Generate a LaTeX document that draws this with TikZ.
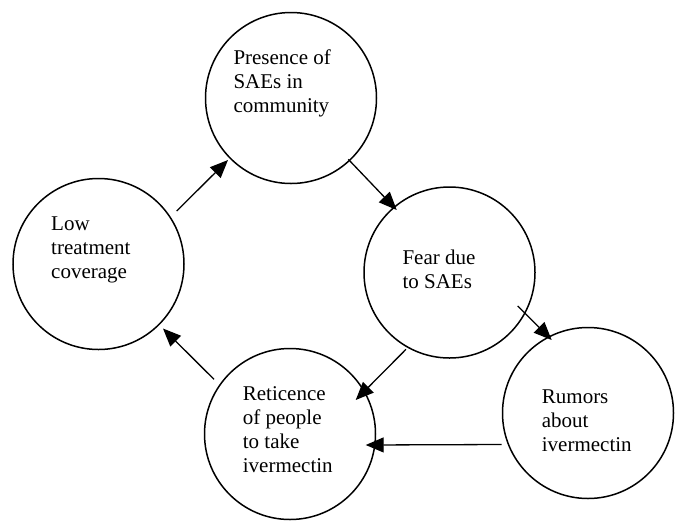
\documentclass[tikz,border=0pt]{standalone}
\usepackage{fontspec}
\setmainfont{Liberation Serif}
\usetikzlibrary{arrows.meta,calc}
\begin{document}
\begin{tikzpicture}[x=1pt,y=-1pt,
  bubble/.style={circle,draw,line width=1.5pt,minimum size=171pt,inner sep=0pt},
  label/.style={anchor=base west,align=left,inner sep=0pt,font=\fontsize{21}{24}\selectfont},
  conn/.style={line width=1.3pt,-{Triangle[length=18pt,width=15pt]}}]
\useasboundingbox (0,0) rectangle (685,531);
\node[bubble] (pres) at (291,98) {};
\node[bubble] (low) at (98.5,264) {};
\node[bubble] (fear) at (449.5,272.5) {};
\node[bubble] (ret) at (290,434) {};
\node[bubble] (rum) at (588,413) {};
\node[label] (tpres) at (233.3,112) {Presence of\\SAEs in\\community};
\node[label] (tlow) at (51,278) {Low\\treatment\\coverage};
\node[label] (tfear) at (402.3,288.3) {Fear due\\to SAEs};
\node[label] (tret) at (242.7,472.7) {Reticence\\of people\\to take\\ivermectin};
\node[label] (trum) at (541.7,451.5) {Rumors\\about\\ivermectin};
\draw[conn] ($(low.center)+(78.2,-53)$) -- ($(pres.center)+(-63,62)$);
\draw[conn] ($(pres.center)+(57.3,61.3)$) -- ($(fear.center)+(-52.8,-62.5)$);
\draw[conn] ($(fear.center)+(68.2,33.5)$) -- ($(rum.center)+(-36.3,-73)$);
\draw[conn] ($(fear.center)+(-43.5,76.8)$) -- ($(ret.center)+(65.7,-34)$);
\draw[conn] ($(rum.center)+(-86.3,31.5)$) -- ($(ret.center)+(75.7,11)$);
\draw[conn] ($(ret.center)+(-76,-54.7)$) -- ($(low.center)+(64.5,64.5)$);
\end{tikzpicture}
\end{document}
